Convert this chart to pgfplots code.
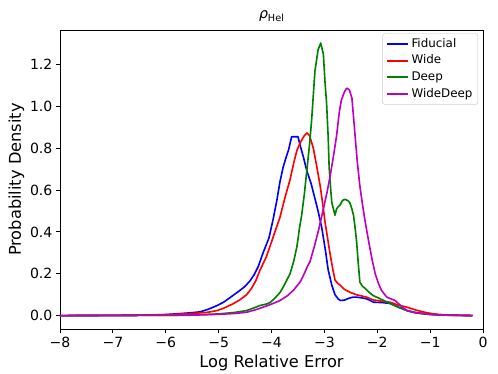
\documentclass[border=0pt]{standalone}
\usepackage{fontspec}
\setmainfont{DejaVu Sans}
\usepackage{pgfplots}
\pgfplotsset{compat=1.18}
\definecolor{mplgreen}{rgb}{0,0.5,0}
\definecolor{mplmag}{rgb}{0.75,0,0.75}
\begin{document}
\begin{tikzpicture}
\path[use as bounding box] (0,0) rectangle (460.8pt,345.6pt);
\begin{axis}[
  at={(55.5pt,41pt)}, anchor=south west,
  scale only axis, width=391.5pt, height=276.8pt,
  xmin=-8, xmax=0, ymin=-0.065, ymax=1.365,
  xtick={-8,-7,-6,-5,-4,-3,-2,-1,0},
  xticklabels={−8,−7,−6,−5,−4,−3,−2,−1,0},
  ytick={0,0.2,0.4,0.6,0.8,1.0,1.2},
  yticklabel style={/pgf/number format/.cd, fixed, fixed zerofill, precision=1, assume math mode=true},
  tick label style={font=\fontsize{13}{15}\selectfont},
  tick align=outside, tick pos=left,
  major tick length=3.5pt,
  every tick/.style={black, line width=0.8pt},
  axis line style={line width=0.8pt},
  label style={font=\fontsize{15}{17}\selectfont},
  ylabel style={yshift=-1.5pt},
  xlabel={Log Relative Error}, ylabel={Probability Density},
  title={{\itshape ρ}\raisebox{-0.35ex}{\fontsize{9}{11}\selectfont Hel}},
  title style={font=\fontsize{13}{15}\selectfont, yshift=-2pt},
  legend style={at={(1,1)}, anchor=north east, xshift=-4.6pt, yshift=-3pt,
    draw=black!20, rounded corners=2pt, font=\fontsize{11}{13}\selectfont,
    inner xsep=3pt, inner ysep=2pt, row sep=0pt,
    nodes={text height=8.5pt, text depth=2.5pt, inner ysep=2.2pt}},
  legend cell align=left,
  legend image code/.code={\draw[#1, line width=1.7pt] (0pt,0pt) -- (20pt,0pt);},
  every axis plot/.append style={line width=1.5pt, line join=round},
]
\addplot[blue] coordinates {
(-8,0) (-7,0.001) (-6.5,0.002) (-6,0.005) (-5.7,0.01) (-5.5,0.014) (-5.35,0.018) (-5.2,0.03) (-5.03,0.048) (-4.9,0.065) (-4.73,0.096) (-4.6,0.12) (-4.5,0.14) (-4.41,0.165) (-4.33,0.195) (-4.25,0.235) (-4.16,0.30) (-4.05,0.37) (-3.97,0.46) (-3.9,0.55) (-3.84,0.64) (-3.78,0.71) (-3.72,0.76) (-3.68,0.79) (-3.62,0.855) (-3.55,0.855) (-3.50,0.855) (-3.46,0.815) (-3.40,0.76) (-3.33,0.69) (-3.25,0.63) (-3.18,0.56) (-3.12,0.50) (-3.05,0.42) (-2.98,0.31) (-2.93,0.22) (-2.86,0.145) (-2.80,0.10) (-2.74,0.08) (-2.70,0.072) (-2.62,0.074) (-2.55,0.082) (-2.46,0.088) (-2.39,0.088) (-2.30,0.085) (-2.20,0.08) (-2.07,0.064) (-1.9,0.062) (-1.76,0.058) (-1.6,0.04) (-1.44,0.024) (-1.32,0.016) (-1.15,0.01) (-1.0,0.006) (-0.8,0.003) (-0.5,0.001) (-0.2,0)
};
\addlegendentry{Fiducial}
\addplot[red] coordinates {
(-8,0) (-7,0.001) (-6.5,0.002) (-6,0.004) (-5.5,0.01) (-5.2,0.016) (-5.03,0.024) (-4.9,0.036) (-4.73,0.056) (-4.6,0.075) (-4.47,0.10) (-4.38,0.13) (-4.3,0.165) (-4.22,0.216) (-4.1,0.28) (-4.03,0.33) (-3.95,0.39) (-3.84,0.47) (-3.75,0.56) (-3.65,0.65) (-3.58,0.73) (-3.52,0.79) (-3.45,0.83) (-3.38,0.86) (-3.33,0.873) (-3.28,0.86) (-3.21,0.80) (-3.15,0.72) (-3.08,0.62) (-3.03,0.53) (-2.99,0.45) (-2.94,0.37) (-2.89,0.29) (-2.84,0.22) (-2.80,0.17) (-2.75,0.155) (-2.70,0.145) (-2.62,0.125) (-2.52,0.112) (-2.40,0.10) (-2.20,0.088) (-2.08,0.075) (-1.9,0.068) (-1.76,0.064) (-1.6,0.05) (-1.44,0.04) (-1.25,0.025) (-1.07,0.014) (-0.9,0.007) (-0.7,0.003) (-0.4,0.001) (-0.2,0)
};
\addlegendentry{Wide}
\addplot[mplgreen] coordinates {
(-8,0) (-6,0.001) (-5.5,0.003) (-5,0.008) (-4.7,0.015) (-4.47,0.024) (-4.3,0.04) (-4.22,0.048) (-4.1,0.055) (-4.03,0.062) (-3.95,0.08) (-3.84,0.11) (-3.75,0.15) (-3.65,0.20) (-3.58,0.26) (-3.52,0.33) (-3.47,0.42) (-3.43,0.48) (-3.38,0.58) (-3.33,0.70) (-3.28,0.82) (-3.24,0.94) (-3.18,1.167) (-3.12,1.27) (-3.07,1.303) (-3.02,1.25) (-2.99,1.12) (-2.96,1.02) (-2.93,0.86) (-2.91,0.705) (-2.88,0.60) (-2.86,0.54) (-2.80,0.48) (-2.77,0.51) (-2.74,0.52) (-2.70,0.53) (-2.66,0.55) (-2.61,0.556) (-2.56,0.55) (-2.52,0.54) (-2.48,0.51) (-2.45,0.48) (-2.42,0.42) (-2.39,0.35) (-2.36,0.25) (-2.33,0.16) (-2.28,0.14) (-2.23,0.13) (-2.15,0.11) (-2.08,0.096) (-1.9,0.075) (-1.76,0.058) (-1.6,0.04) (-1.44,0.024) (-1.25,0.012) (-1.0,0.005) (-0.7,0.002) (-0.2,0)
};
\addlegendentry{Deep}
\addplot[mplmag] coordinates {
(-8,0) (-6,0.001) (-5.5,0.002) (-5,0.006) (-4.7,0.01) (-4.47,0.016) (-4.3,0.028) (-4.16,0.04) (-4.0,0.055) (-3.84,0.072) (-3.7,0.095) (-3.59,0.12) (-3.46,0.16) (-3.40,0.19) (-3.33,0.23) (-3.27,0.26) (-3.18,0.34) (-3.10,0.42) (-3.02,0.51) (-2.95,0.59) (-2.89,0.67) (-2.83,0.76) (-2.77,0.86) (-2.72,0.97) (-2.68,1.03) (-2.62,1.07) (-2.58,1.087) (-2.53,1.08) (-2.48,1.04) (-2.45,0.95) (-2.42,0.86) (-2.38,0.74) (-2.33,0.62) (-2.28,0.53) (-2.23,0.45) (-2.16,0.35) (-2.10,0.27) (-2.04,0.20) (-1.98,0.155) (-1.92,0.12) (-1.82,0.088) (-1.66,0.072) (-1.55,0.045) (-1.44,0.024) (-1.3,0.015) (-1.13,0.01) (-0.9,0.004) (-0.6,0.002) (-0.2,0)
};
\addlegendentry{WideDeep}
\end{axis}
\end{tikzpicture}
\end{document}
